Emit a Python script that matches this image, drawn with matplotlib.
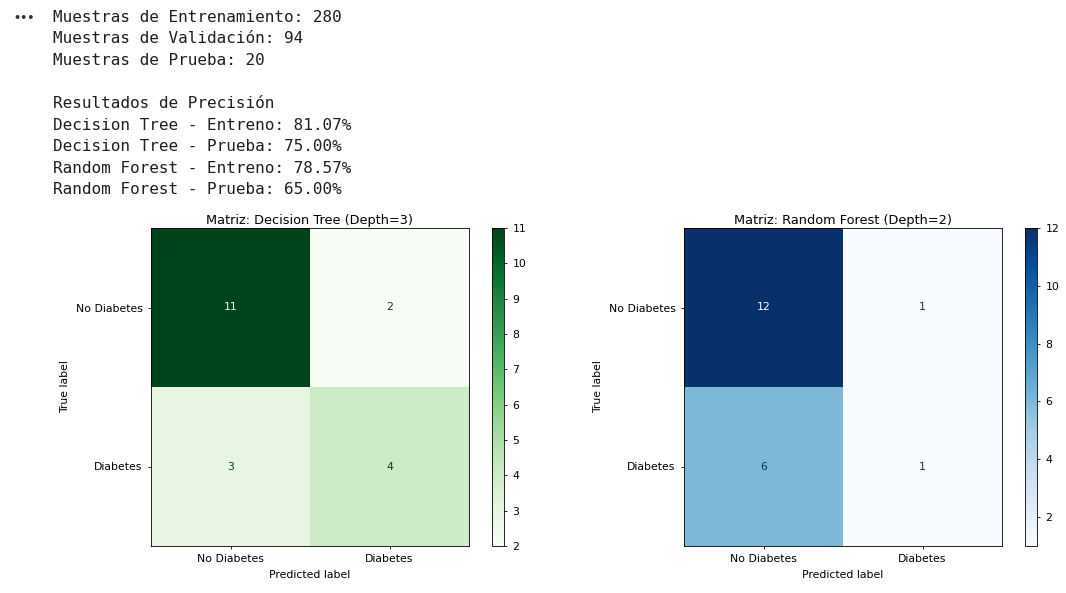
import matplotlib
matplotlib.use("Agg")
import matplotlib.pyplot as plt
import numpy as np

# Salida de texto del notebook
lineas_salida = [
    "Muestras de Entrenamiento: 280",
    "Muestras de Validación: 94",
    "Muestras de Prueba: 20",
    "",
    "Resultados de Precisión",
    "Decision Tree - Entreno: 81.07%",
    "Decision Tree - Prueba: 75.00%",
    "Random Forest - Entreno: 78.57%",
    "Random Forest - Prueba: 65.00%",
]

# Matrices de confusión
clases = ["No Diabetes", "Diabetes"]
cm_arbol = np.array([[11, 2], [3, 4]])
cm_bosque = np.array([[12, 1], [6, 1]])
titulo_arbol = "Matriz: Decision Tree (Depth=3)"
titulo_bosque = "Matriz: Random Forest (Depth=2)"

W, H = 1066, 593
fig = plt.figure(figsize=(W / 100, H / 100), dpi=100)

# Texto superior (monoespaciado)
fig.text(13 / W, 1 - 18 / H, "•••", fontsize=8, color="#333333",
         family="DejaVu Sans", weight="bold", va="center", ha="left")
for i, linea in enumerate(lineas_salida):
    fig.text(53 / W, 1 - (17 + i * 21.6) / H, linea, fontsize=11.5,
             family="DejaVu Sans Mono", color="#1f1f1f", va="center", ha="left")

fs = 7.8
fs_titulo = 9.3


def dibujar_matriz(cm, cmap_nombre, titulo, x_ax, x_cb, ticks_cb):
    ax = fig.add_axes([x_ax / W, 1 - 546 / H, 318 / W, 318 / H])
    cax = fig.add_axes([x_cb / W, 1 - 546 / H, 12 / W, 318 / H])
    cmap = plt.get_cmap(cmap_nombre)
    im = ax.imshow(cm, cmap=cmap, interpolation="nearest", aspect="auto")
    umbral = (cm.max() + cm.min()) / 2.0
    for i in range(cm.shape[0]):
        for j in range(cm.shape[1]):
            color = cmap(0.0) if cm[i, j] >= umbral else cmap(1.0)
            ax.text(j, i, str(cm[i, j]), ha="center", va="center",
                    color=color, fontsize=fs)
    ax.set_xticks(range(len(clases)))
    ax.set_yticks(range(len(clases)))
    ax.set_xticklabels(clases, fontsize=fs)
    ax.set_yticklabels(clases, fontsize=fs)
    ax.set_xlabel("Predicted label", fontsize=fs)
    ax.set_ylabel("True label", fontsize=fs)
    ax.set_title(titulo, fontsize=fs_titulo, pad=3)
    ax.tick_params(length=2.5, width=0.6)
    for s in ax.spines.values():
        s.set_linewidth(0.6)
    cb = fig.colorbar(im, cax=cax)
    cb.set_ticks(ticks_cb)
    cb.ax.tick_params(labelsize=fs, length=2.5, width=0.6)
    cb.outline.set_linewidth(0.6)
    return ax


dibujar_matriz(cm_arbol, "Greens", titulo_arbol, 151, 492, list(range(2, 12)))
dibujar_matriz(cm_bosque, "Blues", titulo_bosque, 684, 1025, [2, 4, 6, 8, 10, 12])

fig.savefig("out.png", dpi=100)
